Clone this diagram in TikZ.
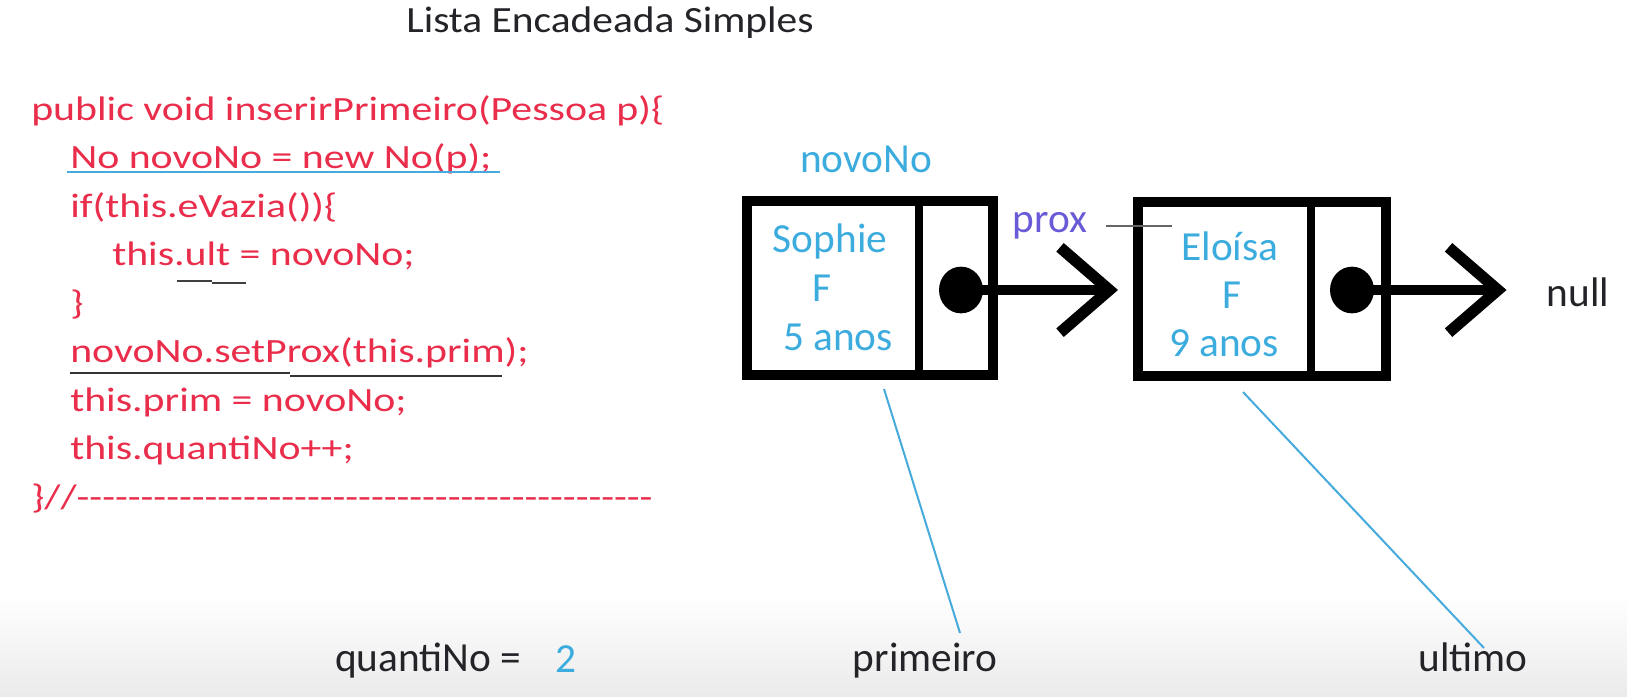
\documentclass[tikz,border=0pt]{standalone}
\usepackage{fontspec}
\usepackage{graphicx}
\setmainfont{Carlito}
\usetikzlibrary{arrows.meta,shapes.geometric}
\definecolor{codered}{RGB}{233,45,75}
\definecolor{celeste}{RGB}{60,172,222}
\definecolor{proxc}{RGB}{105,90,215}
\definecolor{linkblue}{RGB}{70,170,220}
\definecolor{darktxt}{RGB}{35,35,40}
\newcommand{\codex}[1]{\scalebox{1.23}[1]{#1}}
\newcommand{\titlex}[1]{\scalebox{1.12}[1]{#1}}
\newcount\dashcnt
\newcommand{\dashrun}[1]{\dashcnt=0 \loop -{}\advance\dashcnt by 1 \ifnum\dashcnt<#1\repeat}
\tikzset{
  code/.style={anchor=base west, inner sep=0pt, text=codered, font=\fontsize{25.5}{30}\selectfont},
  dtxt/.style={anchor=base, inner sep=0pt, text=celeste, font=\fontsize{31}{37}\selectfont},
  btxt/.style={anchor=base, inner sep=0pt, text=darktxt, font=\fontsize{31}{37}\selectfont},
  nodebox/.style={draw=black, line width=7.5pt, minimum width=185pt, minimum height=130.5pt, inner sep=0pt, outer sep=0pt},
  divider/.style={draw=black, line width=6pt},
  dot/.style={ellipse, fill=black, minimum width=33pt, minimum height=35pt, inner sep=0pt},
  ptr/.style={line width=6.8pt, -{Straight Barb[length=37pt,width=64pt,line width=8.5pt]}},
  link/.style={draw=linkblue, line width=1.5pt},
  uline/.style={line width=1.8pt}
}
\begin{document}
\begin{tikzpicture}[x=0.75pt,y=-0.75pt]
\useasboundingbox (0,0) rectangle (1627,696);
\fill[white] (0,0) rectangle (1627,696);
\shade[top color=white, bottom color=gray!16] (0,595) rectangle (1627,696);

% title
\node[anchor=base, inner sep=0pt, text=darktxt, font=\fontsize{27.75}{33}\selectfont] (title) at (610,32) {\titlex{Lista Encadeada Simples}};

% code
\node[code] (c1) at (31,120) {\codex{public void inserirPrimeiro(Pessoa p)\{}};
\node[code] (c2) at (70,168.5) {\codex{No novoNo = new No(p);}};
\node[code] (c3) at (70,217) {\codex{if(this.eVazia())\{}};
\node[code] (c4) at (112,265.5) {\codex{this.ult = novoNo;}};
\node[code] (c5) at (70,314) {\codex{\}}};
\node[code] (c6) at (70,362.5) {\codex{novoNo.setProx(this.prim);}};
\node[code] (c7) at (70,411) {\codex{this.prim = novoNo;}};
\node[code] (c8) at (70,459.5) {\codex{this.quantiNo++;}};
\node[code] (c9) at (31,508) {\codex{\}//\dashrun{45}}};

% underlines
\draw[uline, draw=linkblue] (67,172) -- (500,172);
\draw[uline, draw=black!75] (177,281) -- (212,281);
\draw[uline, draw=black!75] (212,283) -- (246,283);
\draw[uline, draw=black!80] (70,373) -- (290,373);
\draw[uline, draw=black!80] (290,376) -- (502,376);

% list nodes
\node[dtxt] (novo) at (866,172) {novoNo};
\node[nodebox] (box1) at (870,288) {};
\draw[divider] (919,201) -- (919,375);
\node[dtxt] (s1) at (830,252) {Sophie};
\node[dtxt] (s2) at (822,301) {F};
\node[dtxt] (s3) at (838,350) {5 anos};
\node[dot] (dot1) at (961,290) {};

\node[nodebox, minimum width=186pt] (box2) at (1262,289) {};
\draw[divider] (1311,202) -- (1311,376);
\node[dtxt] (e1) at (1230,260) {Eloísa};
\node[dtxt] (e2) at (1232,308) {F};
\node[dtxt] (e3) at (1224,356) {9 anos};
\node[dot] (dot2) at (1352,290) {};

\node[anchor=base, inner sep=0pt, text=proxc, font=\fontsize{31}{37}\selectfont] (prox) at (1050,232) {prox};
\coordinate (proxend) at (1172,226);
\draw[draw=black!60, line width=1.5pt] ([xshift=14pt]prox.east |- proxend) -- (proxend);

\node[btxt] (null) at (1578,306) {null};

\draw[ptr] (dot1.center) -- ([xshift=-15pt]box2.west |- dot1.center);
\draw[ptr] (dot2.center) -- ([xshift=-30pt]null.west |- dot2.center);

% bottom labels
\node[btxt, anchor=base west] (qn) at (335,671) {quantiNo =};
\node[btxt, anchor=base west, text=celeste] (qv) at (555,672) {2};
\node[btxt] (prim) at (925,671) {primeiro};
\node[btxt] (ult) at (1473,671) {ultimo};

\coordinate (l1a) at (884,389);
\coordinate (l1b) at (960,633);
\coordinate (l2a) at (1243,392);
\coordinate (l2b) at (1484,648);
\draw[link] (l1a) -- (l1b);
\draw[link] (l2a) -- (l2b);
\end{tikzpicture}
\end{document}
